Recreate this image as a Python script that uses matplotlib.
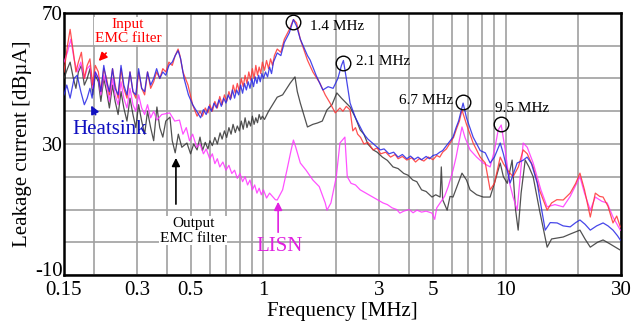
import matplotlib
matplotlib.use("Agg")
import matplotlib.pyplot as plt
import matplotlib.transforms as mtransforms
from matplotlib.ticker import FixedLocator, NullFormatter

# ---------------- data ----------------
red_f = [0.150, 0.155, 0.159, 0.164, 0.168, 0.172, 0.177, 0.182, 0.187, 0.192, 0.197, 0.202, 0.208, 0.213,
         0.219, 0.225, 0.231, 0.238, 0.244, 0.251, 0.258, 0.265, 0.273, 0.281, 0.289, 0.297, 0.305, 0.314,
         0.323, 0.332, 0.342, 0.352, 0.362, 0.373, 0.384, 0.395, 0.407, 0.42, 0.432, 0.444, 0.452, 0.465,
         0.488, 0.51, 0.532,
         0.547, 0.56, 0.575, 0.59, 0.60, 0.615, 0.63, 0.645, 0.66, 0.675, 0.69, 0.705, 0.72, 0.735, 0.75,
         0.765, 0.78, 0.795, 0.81, 0.825, 0.84, 0.855, 0.87, 0.885, 0.90, 0.915, 0.93, 0.945, 0.96, 0.975,
         0.99, 1.01, 1.03, 1.05, 1.07, 1.09, 1.11, 1.14,
         1.18, 1.22, 1.28, 1.33, 1.37, 1.42, 1.52, 1.6, 1.71, 1.8, 1.885, 1.98, 2.07, 2.13, 2.2,
         2.28, 2.34, 2.4, 2.45, 2.52, 2.6, 2.7, 2.84, 2.95, 3.05, 3.2, 3.35, 3.5, 3.6, 3.75, 3.91, 4.1,
         4.25, 4.4, 4.6, 4.8, 5.02, 5.2, 5.35, 5.5, 5.7, 5.9, 6.1, 6.3, 6.45, 6.61,
         6.9, 7.35, 7.86, 8.25, 8.64, 9.0, 9.51, 9.8, 10.2, 10.75, 11.3, 11.83, 12.3, 13.0, 13.8, 14.86,
         15.5, 16.3, 17.31, 18.5, 19.5, 20.3, 21.2, 22.4, 23.5, 24.5, 25.3, 26.5, 27.8, 28.8, 29.8]
red_v = [52, 60, 65, 58, 52, 55, 58, 50, 54, 56, 48, 54, 52, 46,
         53, 50, 45, 53, 48, 44, 53, 47, 44, 52, 46, 44, 52, 47,
         45, 52, 47, 49, 52, 50, 53, 52, 55, 54, 57, 59, 57, 52,
         48, 42, 38.5,
         40, 38.5, 41, 39.5, 42, 40, 43, 41, 44.5, 42, 45, 43, 46, 44, 48,
         45.5, 48.5, 46, 50, 47.5, 51, 48.5, 52, 49.5, 53, 50, 54, 51, 53.5, 51.5,
         55, 52.5, 55.5, 53, 56, 54, 57, 59,
         58, 62, 65, 68, 67, 62, 55.6, 52, 48.6, 45, 42.5, 39.5, 41, 40, 41.5,
         40.4, 34, 35, 33, 32, 30, 30.5, 28.2, 28.8, 27, 27.5, 26, 26.8, 25.5, 26.2, 25.1, 25.8,
         24.5, 25.5, 24.8, 26, 25.2, 26.5, 26, 27.5, 28.5, 30.3, 32, 35, 37, 40.4,
         36, 30.3, 26, 24.2, 16, 18, 26, 24, 22, 20, 23, 28.2, 27, 23, 16, 9.8,
         12, 13, 12.9, 15, 18, 21.1, 16, 7.7, 15, 14, 13.8, 11, 5.9, 8, 4.7]

blue_f = [0.150, 0.154, 0.159, 0.165, 0.170, 0.176, 0.182, 0.187, 0.192, 0.196, 0.202, 0.208, 0.213, 0.219,
          0.225, 0.231, 0.238, 0.244, 0.251, 0.258, 0.265, 0.273, 0.281, 0.289, 0.297, 0.305, 0.314, 0.323,
          0.332, 0.342, 0.352, 0.362, 0.373, 0.384, 0.395, 0.407, 0.42, 0.432, 0.444, 0.455, 0.47, 0.49,
          0.51, 0.53,
          0.55, 0.565, 0.58, 0.595, 0.61, 0.625, 0.64, 0.655, 0.67, 0.685, 0.70, 0.715, 0.73, 0.745, 0.76,
          0.775, 0.79, 0.805, 0.82, 0.835, 0.85, 0.865, 0.88, 0.895, 0.91, 0.925, 0.94, 0.955, 0.97, 0.985,
          1.0, 1.02, 1.04, 1.06, 1.08, 1.10, 1.14,
          1.18, 1.22, 1.28, 1.33, 1.37, 1.42, 1.52, 1.56, 1.65, 1.76, 1.85, 1.94, 2.03, 2.1, 2.14, 2.2,
          2.28, 2.4, 2.51, 2.6, 2.7, 2.8, 2.9, 3.04, 3.15, 3.3, 3.45, 3.6, 3.75, 3.91, 4.05, 4.2, 4.35,
          4.5, 4.7, 4.85, 5.02, 5.2, 5.35, 5.5, 5.7, 5.9, 6.07, 6.25, 6.4, 6.55, 6.68,
          6.9, 7.35, 7.86, 8.25, 8.64, 9.0, 9.51, 9.8, 10.45, 11.17, 11.8, 12.28, 12.8, 13.52, 14.1, 14.59,
          15.3, 16.34, 17.3, 18.5, 19.5, 20.3, 21.3, 22.4, 23.8, 25.3, 26.5, 27.8, 29.0, 29.8]
blue_v = [45, 48, 44, 50, 51, 46, 42, 44, 47, 44, 52, 50, 46, 54,
          49, 46, 53, 47, 45, 54, 48, 45, 52, 46, 45, 53, 47, 46,
          52, 48, 50, 53, 50, 52, 51, 54, 55, 57, 58.5, 56, 50, 45,
          42, 40,
          38, 40.5, 39, 41.5, 40, 42.5, 41, 43.5, 41.5, 44, 42.5, 45, 43.5, 46.5, 44,
          46.5, 45, 48, 45.5, 48.5, 46.5, 49, 47, 50, 47.5, 50.5, 48.5, 51, 49, 51.5,
          50, 52, 50.5, 53.5, 51.5, 55, 57.8,
          57, 61, 64, 68, 66, 62, 57, 55.6, 51, 46.5, 47.5, 47, 50, 54, 55.5, 50,
          42.5, 38, 35.2, 33, 31.5, 30.5, 29.5, 28.2, 28.5, 27, 27.5, 26, 26.8, 25.5, 26.3, 25.3, 26,
          25.2, 26.2, 25.5, 26.5, 26.8, 27.5, 28, 29.5, 31, 32.1, 35, 37, 40, 42.5,
          38, 32.1, 28, 27.3, 24.2, 26, 30.3, 27, 18.1, 24.2, 25, 26, 24, 18.1, 10, 3.7,
          6, 5.9, 5, 4.7, 6, 6.8, 5.5, 3.7, 5, 5.9, 5, 3.7, 2, 0.7]

lisn_f = [0.150, 0.155, 0.160, 0.165, 0.170, 0.176, 0.182, 0.187, 0.192, 0.197, 0.202, 0.208, 0.213, 0.219,
          0.225, 0.231, 0.238, 0.244, 0.251, 0.258, 0.265, 0.273, 0.281, 0.289, 0.297, 0.305, 0.314, 0.323,
          0.332, 0.342, 0.352, 0.363, 0.38, 0.41, 0.43,
          0.45, 0.465, 0.48, 0.495, 0.51, 0.53, 0.547, 0.565, 0.58, 0.60, 0.615, 0.63, 0.645, 0.66, 0.68,
          0.70, 0.72, 0.74, 0.76, 0.78, 0.80, 0.82, 0.84, 0.86, 0.88, 0.90, 0.92, 0.94, 0.96, 0.98, 1.0,
          1.03, 1.06, 1.09, 1.12, 1.14,
          1.2, 1.25, 1.30, 1.33, 1.36, 1.42, 1.5, 1.6, 1.7, 1.8, 1.83, 1.9, 2.0, 2.07, 2.17,
          2.22, 2.3, 2.4, 2.51, 2.65, 2.8, 2.95, 3.12, 3.25, 3.4, 3.55, 3.66, 3.8, 4.0, 4.15, 4.31, 4.5,
          4.7, 4.97, 5.1, 5.2, 5.37, 5.6, 5.8, 6.07, 6.25, 6.4, 6.61,
          6.8, 7.14, 7.6, 8.09, 8.64, 9.0, 9.33, 9.6, 9.97, 10.4, 10.75, 11.17, 11.5, 11.83, 12.3, 13.01,
          14.0, 14.86, 16.0, 17.31, 18.5, 20.3, 21.2, 22.4, 23.5, 25.0, 26.3, 27.8, 29.8]
lisn_v = [55, 58, 62, 56, 52, 55, 50, 53, 54, 47, 52, 50, 45, 51,
          48, 43, 50, 45, 42, 49, 44, 41, 47, 42, 40, 45, 41, 39,
          42, 38, 40, 37.3, 39, 39.5, 37,
          37.3, 33, 35, 31, 33, 29, 30, 27, 28.5, 25.5, 27, 24, 25.5, 23, 24.5,
          22, 23.5, 21, 22, 19.5, 21, 18.5, 20, 17.5, 19, 16, 17.5, 15, 16.5, 14.5, 16,
          13.5, 15, 14, 13, 12.9,
          16, 22, 28, 31.2, 29, 24.2, 22, 19, 17, 12, 9.8, 12, 20, 30.3, 32.1,
          20, 18, 17.5, 16, 15, 14, 13, 12, 11.5, 10.5, 10, 8.9, 9.5, 10, 9, 9.8, 9.2,
          9.5, 8.9, 7, 10.5, 12, 14, 17, 22, 26, 30, 35.2,
          32, 28.2, 26, 24.2, 23, 28, 34.3, 35.8, 28.2, 18, 13.8, 9.8, 20, 30.3, 29, 24.2,
          16, 10.8, 11.5, 10.8, 14, 20, 15, 9.8, 13.8, 12.5, 12, 7.7, 3.7]

out_f = [0.150, 0.155, 0.159, 0.164, 0.168, 0.172, 0.177, 0.182, 0.187, 0.192, 0.197, 0.202, 0.208, 0.213,
         0.219, 0.225, 0.231, 0.238, 0.244, 0.251, 0.258, 0.265, 0.273, 0.281, 0.289, 0.297, 0.305, 0.314,
         0.323, 0.332, 0.342, 0.352, 0.363, 0.373, 0.384, 0.395, 0.411, 0.42, 0.432, 0.445, 0.46, 0.483,
         0.50, 0.515, 0.532, 0.547, 0.56, 0.575, 0.59, 0.601, 0.615, 0.63, 0.645, 0.662, 0.675, 0.69,
         0.705, 0.72, 0.735, 0.749, 0.765, 0.78, 0.795, 0.81, 0.825, 0.84, 0.855, 0.87, 0.885, 0.90,
         0.915, 0.93, 0.945, 0.96, 0.975, 0.99, 1.01, 1.05,
         1.14, 1.2, 1.29, 1.35, 1.38, 1.42, 1.52, 1.6, 1.67, 1.75, 1.83, 1.92, 2.01, 2.1,
         2.28, 2.4, 2.51, 2.6, 2.7, 2.84, 2.95, 3.1, 3.25, 3.43, 3.6, 3.8, 3.95, 4.14, 4.3, 4.5, 4.7,
         4.97, 5.15, 5.37, 5.43, 5.5, 5.74, 5.9, 6.07, 6.3, 6.61,
         6.9, 7.14, 7.6, 8.09, 8.64, 9.0, 9.51, 9.8, 10.17, 10.65, 11.0, 11.28, 11.6, 12.06, 12.5, 13.01,
         13.8, 14.86, 15.5, 17.31, 18.5, 20.3, 21.3, 22.4, 24.0, 25.3, 27.0, 29.8]
out_v = [50, 53, 55, 50, 47, 52, 54, 48, 50, 53, 45, 51, 49, 43,
         50, 46, 41, 48, 43, 39, 46, 41, 37, 44, 39, 35, 42, 37,
         33, 40, 35, 31, 41.3, 35, 32.1, 37, 38.2, 31, 27.3, 33, 29, 30.3,
         27, 30, 28.2, 32.1, 28, 30.5, 28.5, 31, 29.5, 32, 30, 33.4, 31.5, 34,
         32, 35, 33, 36, 33.5, 35.5, 34, 37, 34.5, 38, 35, 37, 35.5, 38.5,
         36, 38, 36.5, 39, 37.5, 38.5, 37.5, 40,
         44.3, 45, 48.6, 50.5, 46, 42.5, 35.2, 36, 36.4, 37, 40.4, 42, 45.6, 44,
         41.3, 38, 34.3, 33, 30, 28.2, 27.5, 26, 25, 23, 22.5, 21, 20.5, 19, 18.5, 16, 15.5,
         13.8, 14.5, 13.8, 23, 13, 9.8, 14, 13.8, 17, 21.1,
         19, 16, 14.5, 13.8, 13.8, 18, 24.2, 20, 18, 25.1, 10, 3.7, 15, 25.1, 23, 20,
         10, -1.5, 1, 1.6, 2.5, 3.7, 1, -1.5, 0, 0.7, -0.5, -2.4]

xticks = [0.15, 0.3, 0.5, 1, 3, 5, 10, 30]
xtick_labels = ["0.15", "0.3", "0.5", "1", "3", "5", "10", "30"]
xgrid_minor = [0.2, 0.4, 0.6, 0.7, 0.8, 0.9, 2, 4, 6, 7, 8, 9, 20]
yticks = [-10, 30, 70]
ygrid_minor = [0, 10, 20, 40, 50, 60]

peaks_f = [1.326, 2.13, 6.68, 9.6]
peaks_v = [67.3, 54.7, 42.8, 36.1]

# ---------------- figure ----------------
plt.rcParams['font.family'] = ['Liberation Serif', 'DejaVu Serif']
plt.rcParams['axes.unicode_minus'] = False
fig = plt.figure(figsize=(6.41, 3.26), dpi=100)
ax = fig.add_axes([64/641, 1-275/326, (621-64)/641, (275-13)/326])

lw = 0.9
ax.plot(out_f, out_v, color='#333333', lw=lw, alpha=0.85, zorder=3)
ax.plot(lisn_f, lisn_v, color='#ff33ff', lw=lw, alpha=0.85, zorder=3)
ax.plot(red_f, red_v, color='#ff3333', lw=lw, alpha=0.85, zorder=4)
ax.plot(blue_f, blue_v, color='#2626e6', lw=lw, alpha=0.85, zorder=5)

ax.set_xscale('log')
ax.set_xlim(0.15, 30)
ax.set_ylim(-10, 70)

ax.xaxis.set_major_locator(FixedLocator(xticks))
ax.set_xticklabels(xtick_labels)
ax.xaxis.set_minor_locator(FixedLocator(xgrid_minor))
ax.xaxis.set_minor_formatter(NullFormatter())
ax.yaxis.set_major_locator(FixedLocator(yticks))
ax.yaxis.set_minor_locator(FixedLocator(ygrid_minor))
ax.tick_params(which='both', length=0, labelsize=15)
ax.tick_params(axis='x', pad=4)
ax.tick_params(axis='y', pad=1)
ax.grid(True, which='both', color='#a0a0a0', lw=1.2, zorder=1)
ax.set_axisbelow(True)
for s in ax.spines.values():
    s.set_linewidth(1.8)

# nudge the bottom y label ("-10") up a little, as in the reference
fig.canvas.draw()
lab = ax.get_yticklabels()[0]
lab.set_transform(lab.get_transform() + mtransforms.ScaledTranslation(0, 4/72, fig.dpi_scale_trans))

ax.set_xlabel("Frequency [MHz]", fontsize=15, labelpad=2)
ax.set_ylabel("Leakage current [dBµA]", fontsize=15, labelpad=2)

# peak circles and labels
ax.plot(peaks_f, peaks_v, linestyle='none', marker='o', ms=10.5, mfc='none', mec='k', mew=1.0, zorder=6)
ax.text(1.557, 66, "1.4 MHz", fontsize=11, va='center', ha='left', zorder=7)
ax.text(2.41, 55.3, "2.1 MHz", fontsize=11, va='center', ha='left', zorder=7)
ax.text(6.07, 43.4, "6.7 MHz", fontsize=11, va='center', ha='right', zorder=7)
ax.text(9.02, 40.7, "9.5 MHz", fontsize=11, va='center', ha='left', zorder=7)

bb = dict(facecolor='white', edgecolor='none', pad=0.5)
ax.text(0.2757, 64.5, "Input\nEMC filter", color='red', fontsize=11, ha='center', va='center',
        linespacing=1.1, bbox=bb, zorder=7)
ax.annotate("", xy=(0.205, 54.7), xytext=(0.228, 58.4),
            arrowprops=dict(arrowstyle='-|>', color='red', lw=1.2, mutation_scale=12), zorder=7)
ax.text(0.232, 34.3, "Heatsink", color='#1010c0', fontsize=15, ha='center', va='center', zorder=7)
ax.annotate("", xy=(0.192, 42.5), xytext=(0.205, 38.2),
            arrowprops=dict(arrowstyle='-|>', color='#1010c0', lw=1.2, mutation_scale=12), zorder=7)
ax.text(0.512, 3.5, "Output\nEMC filter", color='black', fontsize=11, ha='center', va='center',
        linespacing=1.15, bbox=bb, zorder=7)
ax.annotate("", xy=(0.435, 26.6), xytext=(0.435, 10.8),
            arrowprops=dict(arrowstyle='-|>', color='black', lw=1.2, mutation_scale=12), zorder=7)
ax.text(1.17, -1.4, "LISN", color='#e020e0', fontsize=15, ha='center', va='center', zorder=7)
ax.annotate("", xy=(1.15, 13.2), xytext=(1.15, 2.2),
            arrowprops=dict(arrowstyle='-|>', color='#e020e0', lw=1.2, mutation_scale=12), zorder=7)

fig.savefig("out.png", dpi=100)
